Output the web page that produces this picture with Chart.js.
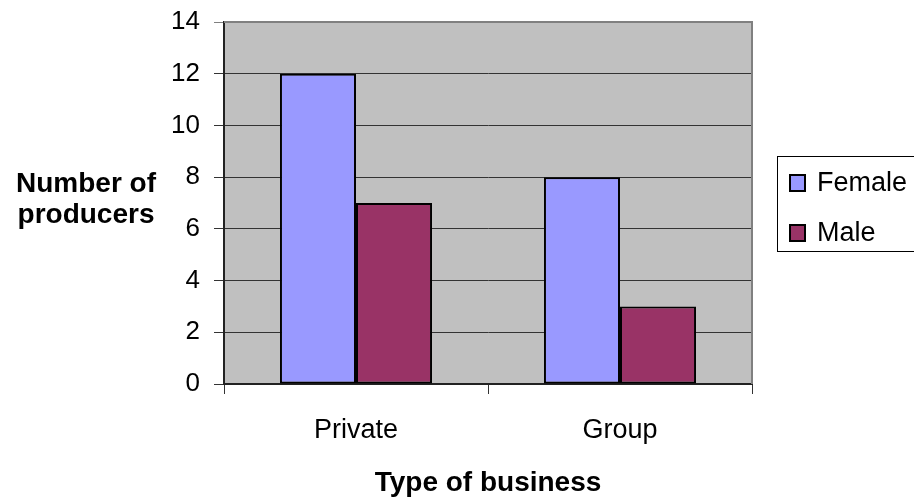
<!DOCTYPE html>
<html>
<head>
<meta charset="utf-8">
<script src="https://cdn.jsdelivr.net/npm/chart.js@4"></script>
<style>
  html, body { margin: 0; padding: 0; background: #fff; }
  canvas { display: block; }
</style>
</head>
<body>
<canvas id="producers" width="914" height="497"></canvas>
<script>
const categories = ['Private', 'Group'];
const seriesNames = ['Female', 'Male'];
const female = [12, 8];
const male = [7, 3];
const yMax = 14;
const yStep = 2;
const yTitle = ['Number of', 'producers'];
const xTitle = 'Type of business';

const colors = ['#9999FF', '#993366'];
const FONT = '"Liberation Sans", Arial, sans-serif';

// gray plot background, gray frame, axis titles and the boxed legend
const excelLook = {
  id: 'excelLook',
  beforeDraw(chart) {
    const { ctx, chartArea: a } = chart;
    ctx.save();
    ctx.fillStyle = '#C0C0C0';
    ctx.fillRect(a.left, a.top, a.right - a.left, a.bottom - a.top);
    ctx.restore();
  },
  afterDraw(chart) {
    const { ctx, chartArea: a } = chart;
    ctx.save();
    ctx.strokeStyle = '#808080';
    ctx.lineWidth = 2;
    ctx.beginPath();
    ctx.moveTo(a.left, a.top);
    ctx.lineTo(a.right, a.top);
    ctx.lineTo(a.right, a.bottom);
    ctx.stroke();

    ctx.fillStyle = '#000';
    ctx.font = 'bold 28px ' + FONT;
    ctx.textAlign = 'center';
    ctx.textBaseline = 'alphabetic';
    ctx.fillText(yTitle[0], 86, 192);
    ctx.fillText(yTitle[1], 86, 223);
    ctx.fillText(xTitle, (a.left + a.right) / 2, 491);

    // legend
    ctx.strokeStyle = '#000';
    ctx.lineWidth = 1;
    ctx.strokeRect(777.5, 156.5, 150, 95);
    ctx.font = '27px ' + FONT;
    ctx.textAlign = 'left';
    chart.data.datasets.forEach((ds, i) => {
      const cy = 183 + i * 50;
      ctx.fillStyle = ds.backgroundColor;
      ctx.fillRect(790, cy - 8, 15, 16);
      ctx.lineWidth = 2;
      ctx.strokeRect(790, cy - 8, 15, 16);
      ctx.fillStyle = '#000';
      ctx.fillText(ds.label, 817, cy + 8);
    });
    ctx.restore();
  }
};

new Chart('producers', {
  type: 'bar',
  data: {
    labels: categories,
    datasets: [
      { label: seriesNames[0], data: female, backgroundColor: colors[0] },
      { label: seriesNames[1], data: male, backgroundColor: colors[1] }
    ]
  },
  options: {
    responsive: false,
    animation: false,
    devicePixelRatio: 1,
    layout: { padding: { left: 0, right: 162, top: 22, bottom: 0 } },
    datasets: {
      bar: {
        borderColor: '#000',
        borderWidth: 2,
        borderSkipped: false,
        categoryPercentage: 0.576,
        barPercentage: 1
      }
    },
    plugins: {
      legend: { display: false },
      tooltip: { enabled: false }
    },
    scales: {
      x: {
        afterFit(scale) { scale.height = 113; },
        grid: {
          offset: true,
          drawOnChartArea: false,
          tickLength: 10,
          color: '#333'
        },
        border: { color: '#222', width: 2 },
        ticks: {
          color: '#000',
          font: { family: FONT, size: 27 },
          padding: 20
        }
      },
      y: {
        min: 0,
        max: yMax,
        afterFit(scale) {
          scale.width = 224;
          scale.paddingTop = 0;
          scale.paddingBottom = 0;
        },
        grid: {
          tickLength: 10,
          color: ctx => ctx.tick && ctx.tick.value === yMax ? '#808080' : '#333'
        },
        border: { color: '#222', width: 2 },
        ticks: {
          stepSize: yStep,
          color: '#000',
          font: { family: FONT, size: 26 },
          padding: 14
        }
      }
    }
  },
  plugins: [excelLook]
});
</script>
</body>
</html>
